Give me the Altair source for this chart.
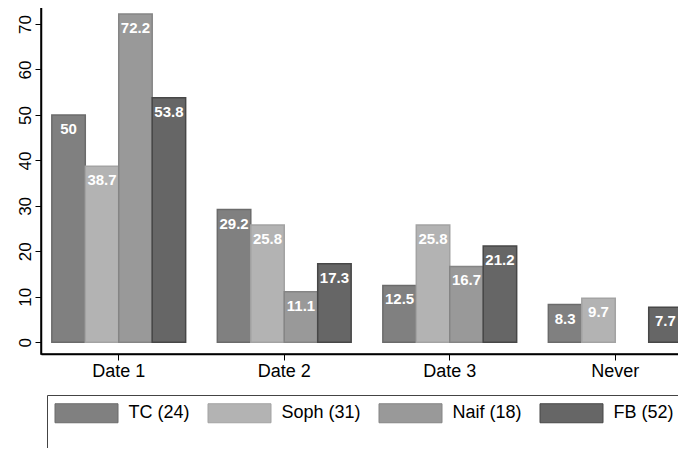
import altair as alt
import pandas as pd

categories = ["Date 1", "Date 2", "Date 3", "Never"]
series = ["TC (24)", "Soph (31)", "Naif (18)", "FB (52)"]
tc = [50, 29.2, 12.5, 8.3]
soph = [38.7, 25.8, 25.8, 9.7]
naif = [72.2, 11.1, 16.7, None]
fb = [53.8, 17.3, 21.2, 7.7]
y_ticks = [0, 10, 20, 30, 40, 50, 60, 70]

fill_colors = ["#808080", "#b3b3b3", "#999999", "#666666"]
stroke_colors = ["#6b6b6b", "#a3a3a3", "#858585", "#474747"]

rows = []
for s, vals in zip(series, [tc, soph, naif, fb]):
    for c, v in zip(categories, vals):
        if v is not None:
            rows.append({"cat": c, "series": s, "value": v, "label": f"{v:g}"})
df = pd.DataFrame(rows)

FONT = "Liberation Sans"

base = alt.Chart(df).encode(
    x=alt.X(
        "cat:N",
        sort=categories,
        scale=alt.Scale(domain=categories, paddingInner=0.1914, paddingOuter=0.0654),
        axis=alt.Axis(
            title=None, labelAngle=0, labelFontSize=18, labelColor="black",
            labelPadding=2, tickSize=6, tickColor="black", tickWidth=1,
            domainColor="black", domainWidth=1.5, grid=False,
        ),
    ),
    xOffset=alt.XOffset(
        "series:N", sort=series,
        scale=alt.Scale(domain=series, paddingInner=0, paddingOuter=0),
    ),
    y=alt.Y(
        "value:Q",
        scale=alt.Scale(domain=[-2.57, 74.84], nice=False, zero=False),
        axis=alt.Axis(
            title=None, values=y_ticks, labelAngle=-90, labelAlign="center",
            labelBaseline="alphabetic", labelFontSize=17, labelColor="black",
            labelPadding=5, tickSize=6, tickColor="black", tickWidth=1,
            domainColor="black", domainWidth=1.5, grid=False,
        ),
    ),
)

bars = base.mark_bar(strokeWidth=1.5).encode(
    y2=alt.datum(0),
    fill=alt.Fill(
        "series:N", sort=series,
        scale=alt.Scale(domain=series, range=fill_colors),
        legend=alt.Legend(
            title=" ", titleOrient="bottom", titleFontSize=10, titlePadding=5,
            orient="none", legendX=6, legendY=393, direction="horizontal",
            columns=4, columnPadding=15, padding=8,
            strokeColor="#444444", fillColor="white", cornerRadius=0,
            symbolType="M-3.3158,-1H3.3158V1H-3.3158Z", symbolSize=361,
            symbolStrokeColor="#6e6e6e", symbolStrokeWidth=1, symbolOpacity=1,
            symbolOffset=21.5, labelOffset=32,
            labelFontSize=18, labelColor="black", labelFont=FONT,
        ),
    ),
    stroke=alt.Stroke(
        "series:N", sort=series,
        scale=alt.Scale(domain=series, range=stroke_colors), legend=None,
    ),
)

labels = base.mark_text(
    color="white", fontWeight="bold", fontSize=15, baseline="middle", dy=14, font=FONT,
).encode(text="label:N")

chart = (
    alt.layer(bars, labels)
    .properties(
        width=652, height=352,
        autosize=alt.AutoSizeParams(type="none"),
        padding={"top": -6, "left": 33, "right": -15, "bottom": 94},
        background="white",
    )
    .configure(font=FONT)
    .configure_view(stroke="black", strokeWidth=1.5)
)

chart.save("out.html", embed_options={"renderer": "svg", "actions": False})
